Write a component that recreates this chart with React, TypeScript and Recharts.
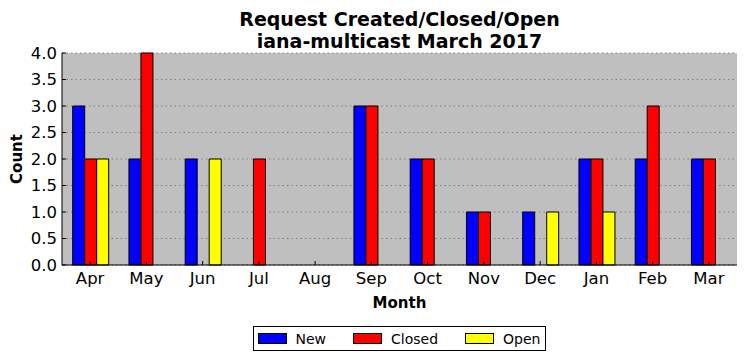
import React from 'react';
import { BarChart, Bar, XAxis, YAxis, CartesianGrid, Legend } from 'recharts';

const months = ['Apr', 'May', 'Jun', 'Jul', 'Aug', 'Sep', 'Oct', 'Nov', 'Dec', 'Jan', 'Feb', 'Mar'];
const newCounts = [3, 2, 2, 0, 0, 3, 2, 1, 1, 2, 2, 2];
const closedCounts = [2, 4, 0, 2, 0, 3, 2, 1, 0, 2, 3, 2];
const openCounts = [2, 0, 2, 0, 0, 0, 0, 0, 1, 1, 0, 0];
const yTicks = [0, 0.5, 1, 1.5, 2, 2.5, 3, 3.5, 4];
const seriesNames = ['New', 'Closed', 'Open'];
const seriesColors = ['#0000ff', '#ff0000', '#ffff00'];
const titleLines = ['Request Created/Closed/Open', 'iana-multicast March 2017'];
const xLabel = 'Month';
const yLabel = 'Count';

const data = months.map((m, i) => ({
  month: m,
  New: newCounts[i],
  Closed: closedCounts[i],
  Open: openCounts[i],
}));

const FONT = '"DejaVu Sans", sans-serif';
const TICK_LEN = 4;
const X_MARGIN = 7;
const Y_MARGIN = 5;
const TICK_FONT = 16.5;

const BottomTick = (props: any) => {
  const { x, y, payload } = props;
  const axisY = y - X_MARGIN;
  return (
    <g>
      <line x1={x} x2={x} y1={axisY} y2={axisY - TICK_LEN} stroke="#000" />
      <text x={x} y={y} dy="0.71em" textAnchor="middle" fontSize={TICK_FONT} fontFamily={FONT} fill="#000">
        {payload.value}
      </text>
    </g>
  );
};

const TopTick = (props: any) => {
  const { x, y } = props;
  return <line x1={x} x2={x} y1={y} y2={y + TICK_LEN} stroke="#000" />;
};

const LeftTick = (props: any) => {
  const { x, y, payload } = props;
  const axisX = x + Y_MARGIN;
  return (
    <g>
      <line x1={axisX} x2={axisX + TICK_LEN} y1={y} y2={y} stroke="#000" />
      <text x={x} y={y} dy="0.355em" textAnchor="end" fontSize={TICK_FONT} fontFamily={FONT} fill="#000">
        {Number(payload.value).toFixed(1)}
      </text>
    </g>
  );
};

const RightTick = (props: any) => {
  const { x, y } = props;
  return <line x1={x} x2={x - TICK_LEN} y1={y} y2={y} stroke="#000" />;
};

const LegendBox = () => (
  <div style={{ display: 'flex', justifyContent: 'center' }}>
    <div
      style={{
        display: 'inline-flex',
        alignItems: 'center',
        height: 25,
        boxSizing: 'border-box',
        border: '1px solid #000',
        background: '#fff',
        padding: '0 5px 0 4px',
        fontFamily: FONT,
        fontSize: 14,
        color: '#000',
      }}
    >
      {seriesNames.map((n, i) => (
        <div key={n} style={{ display: 'flex', alignItems: 'center', marginRight: i < seriesNames.length - 1 ? 27 : 0 }}>
          <span
            style={{
              display: 'inline-block',
              width: 27,
              height: 9,
              border: '1px solid #000',
              background: seriesColors[i],
              marginRight: 9,
            }}
          />
          <span>{n}</span>
        </div>
      ))}
    </div>
  </div>
);

export default function App() {
  return (
    <div style={{ position: 'absolute', left: 0, top: 0, width: 746, height: 361, background: '#fff' }}>
      <div
        style={{
          position: 'absolute',
          left: 62,
          top: 8,
          width: 675,
          textAlign: 'center',
          fontFamily: FONT,
          fontWeight: 'bold',
          fontSize: 19,
          lineHeight: '22px',
          color: '#000',
        }}
      >
        {titleLines.map((t) => (
          <div key={t}>{t}</div>
        ))}
      </div>
      <BarChart
        width={746}
        height={361}
        data={data}
        margin={{ top: 53, right: 9, bottom: 10, left: 0 }}
        barCategoryGap="19%"
        barGap={0}
      >
        <CartesianGrid
          vertical={false}
          fill="#bfbfbf"
          stroke="#808080"
          strokeDasharray="1.5 3"
          horizontalValues={yTicks}
        />
        <XAxis
          dataKey="month"
          height={61}
          tickLine={false}
          tickSize={0}
          tickMargin={X_MARGIN}
          axisLine={{ stroke: '#000' }}
          tick={<BottomTick />}
          interval={0}
          label={{
            content: (p: any) => {
              const vb = p.viewBox;
              return (
                <text
                  x={vb.x + vb.width / 2}
                  y={vb.y + 38}
                  dy="0.355em"
                  textAnchor="middle"
                  fontFamily={FONT}
                  fontWeight="bold"
                  fontSize={15}
                  fill="#000"
                >
                  {xLabel}
                </text>
              );
            },
          }}
        />
        <XAxis
          xAxisId="top"
          dataKey="month"
          orientation="top"
          height={0}
          tickLine={false}
          tickSize={0}
          tickMargin={0}
          axisLine={{ stroke: '#000' }}
          tick={<TopTick />}
          interval={0}
        />
        <YAxis
          width={62}
          domain={[0, 4]}
          ticks={yTicks}
          tickLine={false}
          tickSize={0}
          tickMargin={Y_MARGIN}
          axisLine={{ stroke: '#000' }}
          tick={<LeftTick />}
          interval={0}
          label={{
            content: (p: any) => {
              const vb = p.viewBox;
              const cx = 17;
              const cy = vb.y + vb.height / 2;
              return (
                <text
                  x={cx}
                  y={cy}
                  dy="0.355em"
                  textAnchor="middle"
                  transform={`rotate(-90, ${cx}, ${cy})`}
                  fontFamily={FONT}
                  fontWeight="bold"
                  fontSize={15}
                  fill="#000"
                >
                  {yLabel}
                </text>
              );
            },
          }}
        />
        <YAxis
          yAxisId="right"
          orientation="right"
          width={0}
          domain={[0, 4]}
          ticks={yTicks}
          tickLine={false}
          tickSize={0}
          tickMargin={0}
          axisLine={{ stroke: '#000' }}
          tick={<RightTick />}
          interval={0}
        />
        <Legend
          verticalAlign="bottom"
          wrapperStyle={{ left: 62, width: 675, bottom: 10 }}
          content={() => <LegendBox />}
        />
        {seriesNames.map((n, i) => (
          <Bar
            key={n}
            dataKey={n}
            fill={seriesColors[i]}
            stroke="#000"
            strokeWidth={1}
            isAnimationActive={false}
          />
        ))}
      </BarChart>
    </div>
  );
}
